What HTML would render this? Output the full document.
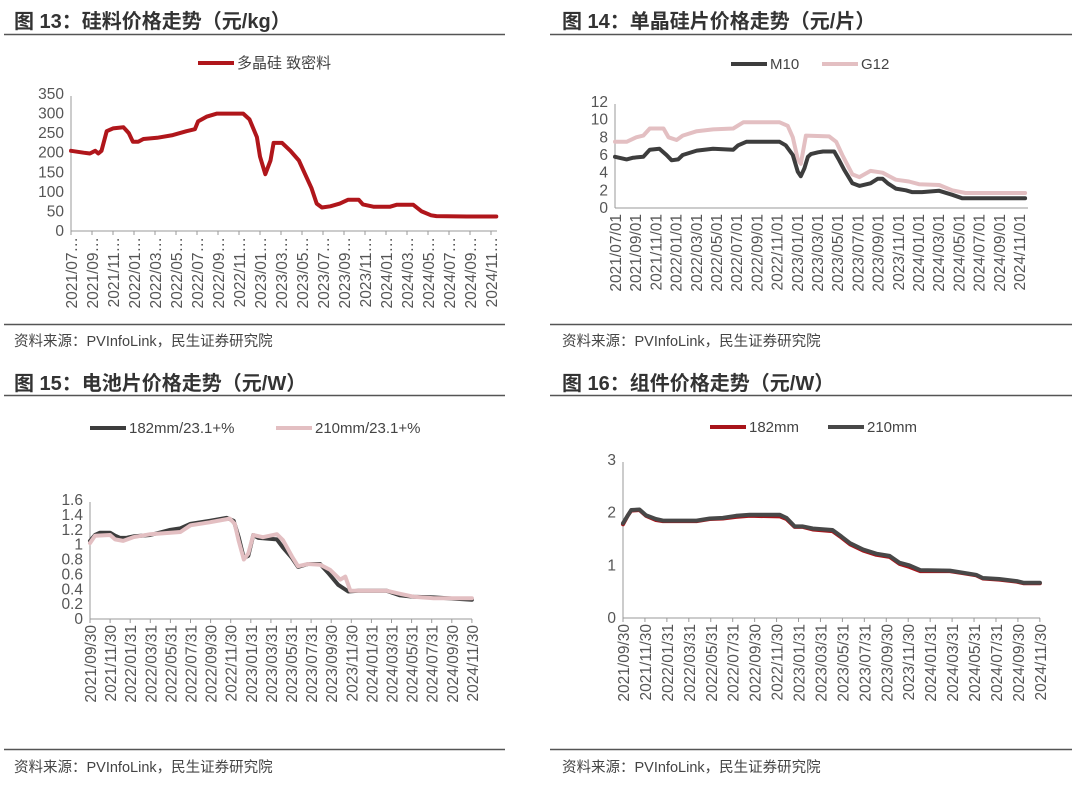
<!DOCTYPE html>
<html><head><meta charset="utf-8"><style>
html,body{margin:0;padding:0;background:#fff;}
svg{display:block;font-family:"Liberation Sans","Noto Sans CJK SC",sans-serif;}
</style></head><body>
<svg id="s" width="1080" height="786" viewBox="0 0 1080 786">
<g>
<text x="14" y="28" font-size="20" font-weight="bold" fill="#333">图 13：硅料价格走势（元/kg）</text>
<line x1="4" y1="34.5" x2="505" y2="34.5" stroke="#555" stroke-width="1.5"/>
<line x1="4" y1="324.5" x2="505" y2="324.5" stroke="#555" stroke-width="1.5"/>
<text x="14" y="346" font-size="14.5" fill="#444">资料来源：PVInfoLink，民生证券研究院</text>
</g>
<g>
<text x="562" y="28" font-size="20" font-weight="bold" fill="#333">图 14：单晶硅片价格走势（元/片）</text>
<line x1="550" y1="34.5" x2="1072" y2="34.5" stroke="#555" stroke-width="1.5"/>
<line x1="550" y1="324.5" x2="1072" y2="324.5" stroke="#555" stroke-width="1.5"/>
<text x="562" y="346" font-size="14.5" fill="#444">资料来源：PVInfoLink，民生证券研究院</text>
</g>
<g>
<text x="14" y="390" font-size="20" font-weight="bold" fill="#333">图 15：电池片价格走势（元/W）</text>
<line x1="4" y1="395.5" x2="505" y2="395.5" stroke="#555" stroke-width="1.5"/>
<line x1="4" y1="749.5" x2="505" y2="749.5" stroke="#555" stroke-width="1.5"/>
<text x="14" y="772" font-size="14.5" fill="#444">资料来源：PVInfoLink，民生证券研究院</text>
</g>
<g>
<text x="562" y="390" font-size="20" font-weight="bold" fill="#333">图 16：组件价格走势（元/W）</text>
<line x1="550" y1="395.5" x2="1072" y2="395.5" stroke="#555" stroke-width="1.5"/>
<line x1="550" y1="749.5" x2="1072" y2="749.5" stroke="#555" stroke-width="1.5"/>
<text x="562" y="772" font-size="14.5" fill="#444">资料来源：PVInfoLink，民生证券研究院</text>
</g>
</svg>
<script>
// ---- chart 13 data (month index from 2021/07, price 元/kg)
const c13Months=[0,1.2,1.8,2.3,2.6,2.9,3.4,4.0,5.0,5.5,5.9,6.4,6.9,8.2,9.7,11.0,11.8,12.1,12.9,13.9,16.4,17.0,17.7,18.0,18.5,19.0,19.3,20.1,20.9,21.7,22.3,22.9,23.4,23.9,24.7,25.6,26.4,27.4,27.8,28.8,30.4,31.0,32.6,33.4,34.3,34.8,37.7,40.5];
const c13Poly=[205,200,198,205,198,205,255,262,265,250,228,228,235,238,245,255,260,280,292,300,300,285,240,190,145,180,225,225,205,180,145,110,70,60,63,70,80,80,68,62,62,67,67,50,40,38,37,37];
const c13Ticks=["2021/07…","2021/09…","2021/11…","2022/01…","2022/03…","2022/05…","2022/07…","2022/09…","2022/11…","2023/01…","2023/03…","2023/05…","2023/07…","2023/09…","2023/11…","2024/01…","2024/03…","2024/05…","2024/07…","2024/09…","2024/11…"];
const c13Y=[0,50,100,150,200,250,300,350];
// ---- chart 14 data (month index from 2021/07/01, 元/片)
const c14M10Months=[0,1.15,1.8,2.8,3.45,4.4,5.1,5.6,6.25,6.7,8.1,9.7,11.7,12.2,13.0,16.3,16.9,17.6,18.1,18.4,18.75,19.1,19.4,20.1,20.6,21.7,22.2,22.7,23.5,24.2,25.3,26.0,26.5,27.0,27.8,28.8,29.4,30.4,32.1,33.4,34.4,40.6];
const c14M10=[5.8,5.5,5.7,5.8,6.6,6.7,6.0,5.4,5.5,6.0,6.5,6.7,6.6,7.1,7.5,7.5,7.1,6.0,4.1,3.6,4.5,5.8,6.1,6.3,6.4,6.4,5.4,4.3,2.8,2.5,2.8,3.3,3.3,2.8,2.2,2.0,1.8,1.8,1.95,1.5,1.1,1.1];
const c14G12Months=[0,1.15,2.1,2.8,3.45,4.8,5.3,6.1,6.7,8.1,9.7,11.7,12.7,16.3,17.1,17.6,18.1,18.4,18.9,21.2,21.9,22.5,23.5,24.2,25.3,26.5,27.8,29.1,30.1,32.1,33.4,34.7,40.6];
const c14G12=[7.5,7.5,8.0,8.2,9.0,9.0,8.0,7.7,8.2,8.7,8.9,9.0,9.7,9.7,9.3,8.0,5.5,5.0,8.2,8.1,7.5,6.0,3.8,3.5,4.2,4.0,3.2,3.0,2.7,2.6,2.0,1.7,1.7];
const c14Ticks=["2021/07/01","2021/09/01","2021/11/01","2022/01/01","2022/03/01","2022/05/01","2022/07/01","2022/09/01","2022/11/01","2023/01/01","2023/03/01","2023/05/01","2023/07/01","2023/09/01","2023/11/01","2024/01/01","2024/03/01","2024/05/01","2024/07/01","2024/09/01","2024/11/01"];
const c14Y=[0,2,4,6,8,10,12];
// ---- chart 15 data (month index from 2021/09/30, 元/W)
const c15AMonths=[0,0.5,1.0,2.0,2.5,3.0,3.6,4.3,6.0,8.0,9.0,10.0,11.9,13.6,14.3,14.8,15.3,15.75,16.25,16.75,18.6,19.2,20.1,20.7,21.7,22.9,23.7,24.7,25.7,26.7,29.5,30.8,32.2,34.2,38];
const c15A=[1.05,1.13,1.16,1.16,1.12,1.09,1.09,1.11,1.13,1.20,1.22,1.28,1.32,1.36,1.32,1.10,0.82,0.85,1.13,1.09,1.07,0.96,0.82,0.70,0.74,0.74,0.62,0.46,0.37,0.38,0.38,0.32,0.30,0.29,0.26];
const c15BMonths=[0,0.5,2.0,2.5,3.3,4.3,6,9,10,11.9,13.9,14.4,14.8,15.3,15.75,16.25,17.2,18.6,19.2,20.1,20.7,21.7,22.9,23.9,24.9,25.4,25.9,26.9,29.5,30.8,32.2,34.2,38];
const c15B=[1.02,1.12,1.13,1.07,1.05,1.10,1.14,1.17,1.26,1.30,1.35,1.28,1.05,0.80,0.88,1.13,1.10,1.14,1.06,0.84,0.71,0.74,0.73,0.66,0.53,0.57,0.38,0.38,0.38,0.34,0.30,0.28,0.28];
const c15Ticks=["2021/09/30","2021/11/30","2022/01/31","2022/03/31","2022/05/31","2022/07/31","2022/09/30","2022/11/30","2023/01/31","2023/03/31","2023/05/31","2023/07/31","2023/09/30","2023/11/30","2024/01/31","2024/03/31","2024/05/31","2024/07/31","2024/09/30","2024/11/30"];
const c15Y=["0","0.2","0.4","0.6","0.8","1","1.2","1.4","1.6"];
// ---- chart 16 data (month index from 2021/09/30, 元/W)
const c16Months=[0,0.45,0.75,1.5,2.1,3.0,3.65,6.7,7.9,9.1,10.3,11.55,14.3,14.9,15.65,16.4,17.3,19.1,19.9,20.7,21.9,23.1,24.3,25.2,26.1,27.1,29.8,31.0,32.2,32.8,34.3,35.9,36.5,38];
const c16A182=[1.78,1.95,2.04,2.05,1.94,1.86,1.84,1.84,1.88,1.89,1.92,1.94,1.93,1.88,1.73,1.73,1.68,1.65,1.53,1.40,1.28,1.20,1.16,1.03,0.97,0.89,0.89,0.85,0.81,0.75,0.73,0.69,0.66,0.66];
const c16B210=[1.80,1.95,2.05,2.06,1.95,1.88,1.85,1.85,1.89,1.90,1.94,1.96,1.96,1.90,1.74,1.74,1.70,1.67,1.55,1.42,1.30,1.22,1.18,1.05,1.00,0.91,0.90,0.86,0.82,0.76,0.74,0.70,0.67,0.67];
const c16Ticks=c15Ticks;
const c16Y=[0,1,2,3];

const NS="http://www.w3.org/2000/svg";
const svg=document.getElementById('s');
function mk(tag,attrs,parent){const e=document.createElementNS(NS,tag);for(const k in attrs)e.setAttribute(k,attrs[k]);(parent||svg).appendChild(e);return e;}

function drawChart(cfg){
  const g=mk('g',{});
  
  
  const sx=m=>cfg.x0+m*cfg.pxPerMonth;
  const sy=v=>cfg.y0-(v-cfg.ymin)/(cfg.ymax-cfg.ymin)*(cfg.y0-cfg.yTop);
  const ya=mk('line',{x1:cfg.x0,y1:cfg.yTop+2,x2:cfg.x0,y2:cfg.y0,stroke:'#999','stroke-width':1},g);
  
  
  const xa=mk('line',{x1:cfg.x0,y1:cfg.y0,x2:cfg.xEnd,y2:cfg.y0,stroke:'#999','stroke-width':1},g);
  
  
  cfg.yTicks.forEach(t=>{
    const tx=mk('text',{x:cfg.x0-7,y:sy(parseFloat(t))+5,'font-size':15.5,fill:'#555','text-anchor':'end'},g);
    tx.textContent=t;
    
    
  });
  cfg.xTicks.forEach((t,i)=>{
    const x=sx(i*2);
    if(cfg.tickMarks) mk('line',{x1:x,y1:cfg.y0,x2:x,y2:cfg.y0+4,stroke:'#999','stroke-width':1},g);
    const tx=mk('text',{x:0,y:0,'font-size':15.5,fill:'#555','text-anchor':'end',transform:`translate(${x+6},${cfg.y0+6}) rotate(-90)`},g);
    tx.textContent=t;
    
    
  });
  cfg.series.forEach(s=>{
    const pts=s.months.map((m,i)=>sx(m).toFixed(1)+','+sy(s.values[i]).toFixed(1)).join(' ');
    const p=mk('polyline',{points:pts,fill:'none',stroke:s.color,'stroke-width':s.w||4,'stroke-linejoin':'round','stroke-linecap':'round'},g);
    
    
  });
  cfg.legend.forEach(l=>{
    const lg=mk('g',{},g);
    
    
    mk('line',{x1:l.x,y1:l.y,x2:l.x+36,y2:l.y,stroke:l.color,'stroke-width':4},lg);
    const tx=mk('text',{x:l.x+39,y:l.y+5,'font-size':15,fill:'#444'},lg);
    tx.textContent=l.label;
  });
}

drawChart({name:'chart-13-silicon-price',x0:71,xEnd:497,pxPerMonth:10.5,y0:231,yTop:94,ymin:0,ymax:350,yTicks:c13Y.map(String),xTicks:c13Ticks,tickMarks:true,
  series:[{name:'line-polysilicon',months:c13Months,values:c13Poly,color:'#b0161b'}],
  legend:[{x:198,y:63,color:'#b0161b',label:'多晶硅 致密料'}]});
drawChart({name:'chart-14-wafer-price',x0:615,xEnd:1028,pxPerMonth:10.1,y0:208,yTop:102,ymin:0,ymax:12,yTicks:c14Y.map(String),xTicks:c14Ticks,tickMarks:false,
  series:[{name:'line-g12',months:c14G12Months,values:c14G12,color:'#e3bfc2'},{name:'line-m10',months:c14M10Months,values:c14M10,color:'#3d3d3d'}],
  legend:[{x:731,y:64,color:'#3d3d3d',label:'M10'},{x:822,y:64,color:'#e3bfc2',label:'G12'}]});
drawChart({name:'chart-15-cell-price',x0:90,xEnd:472,pxPerMonth:10.05,y0:619,yTop:500,ymin:0,ymax:1.6,yTicks:c15Y,xTicks:c15Ticks,tickMarks:true,
  series:[{name:'line-182mm',months:c15AMonths,values:c15A,color:'#3d3d3d'},{name:'line-210mm',months:c15BMonths,values:c15B,color:'#e3bfc2'}],
  legend:[{x:90,y:428,color:'#3d3d3d',label:'182mm/23.1+%'},{x:276,y:428,color:'#e3bfc2',label:'210mm/23.1+%'}]});
drawChart({name:'chart-16-module-price',x0:623,xEnd:1040,pxPerMonth:10.97,y0:618,yTop:460,ymin:0,ymax:3,yTicks:c16Y.map(String),xTicks:c16Ticks,tickMarks:true,
  series:[{name:'line-182mm',months:c16Months,values:c16A182,color:'#a8141a'},{name:'line-210mm',months:c16Months,values:c16B210,color:'#484848'}],
  legend:[{x:710,y:427,color:'#a8141a',label:'182mm'},{x:828,y:427,color:'#484848',label:'210mm'}]});
</script>
</body></html>
